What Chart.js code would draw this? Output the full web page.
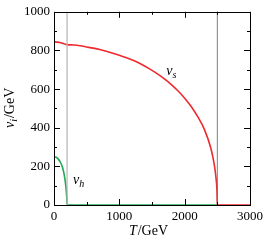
<!DOCTYPE html>
<html>
<head>
<meta charset="utf-8">
<script src="https://cdn.jsdelivr.net/npm/chart.js@4"></script>
<style>
  html, body { margin: 0; padding: 0; background: #fff; }
  #wrap { width: 267px; height: 243px; }
</style>
</head>
<body>
<div id="wrap"><canvas id="chart"></canvas></div>
<script>
// singlet vev v_s against temperature
const tempS = [0, 50, 100, 150, 200, 300, 400, 500, 600, 700, 800, 900, 1000, 1100, 1200, 1300,
  1400, 1500, 1600, 1700, 1800, 1900, 2000, 2100, 2200, 2300, 2400, 2450, 2480, 2495, 2500, 3000];
const vsValues = [845, 843, 840, 835, 830, 828, 824, 818, 812, 805, 796, 786, 775, 763, 750, 735,
  717, 697, 675, 650, 622, 590, 553, 510, 457, 393, 295, 215, 140, 70, 0, 0];

// higgs vev v_h
const tempH = [0, 30, 60, 100, 130, 160, 180, 195, 200, 2500];
const vhValues = [248, 247, 240, 220, 195, 150, 100, 40, 0, 0];

// critical temperatures (vertical marker lines)
const transitionTemps = [200, 2500];

const xTicks = [0, 1000, 2000, 3000];
const yTicks = [0, 200, 400, 600, 800, 1000];

const SERIF = '"Liberation Serif", "DejaVu Serif", serif';
const RED = '#ee2a2f';
const GREEN = '#1faa55';

const toPoints = (xs, ys) => xs.map((x, i) => ({ x, y: ys[i] }));

const curveLabels = [
  { main: 'v', sub: 's', x: 1720, y: 672 },
  { main: 'v', sub: 'h', x: 290, y: 110 },
];

// draws inward ticks on all four sides, the frame, curve labels and axis titles
const framePlugin = {
  id: 'frame',
  afterDatasetsDraw(chart) {
    const { ctx, chartArea: a, scales } = chart;
    const xs = scales.x, ys = scales.y;
    ctx.save();
    ctx.strokeStyle = '#000';
    ctx.lineWidth = 1;
    ctx.beginPath();
    for (let v = 0; v <= 3000; v += 500) {
      const px = Math.round(xs.getPixelForValue(v)) + 0.5;
      const len = v % 1000 === 0 ? 6 : 3;
      ctx.moveTo(px, a.bottom); ctx.lineTo(px, a.bottom - len);
      ctx.moveTo(px, a.top); ctx.lineTo(px, a.top + len);
    }
    for (let v = 0; v <= 1000; v += 100) {
      const py = Math.round(ys.getPixelForValue(v)) + 0.5;
      const len = v % 200 === 0 ? 6 : 3;
      ctx.moveTo(a.left, py); ctx.lineTo(a.left + len, py);
      ctx.moveTo(a.right, py); ctx.lineTo(a.right - len, py);
    }
    ctx.stroke();
    ctx.strokeRect(Math.round(a.left) + 0.5, Math.round(a.top) + 0.5,
      Math.round(a.right - a.left), Math.round(a.bottom - a.top));

    ctx.fillStyle = '#000';
    ctx.textBaseline = 'alphabetic';
    curveLabels.forEach(l => {
      const px = xs.getPixelForValue(l.x), py = ys.getPixelForValue(l.y);
      ctx.font = 'italic 14px ' + SERIF;
      ctx.textAlign = 'left';
      ctx.fillText(l.main, px, py);
      const w = ctx.measureText(l.main).width;
      ctx.font = 'italic 10px ' + SERIF;
      ctx.fillText(l.sub, px + w, py + 3);
    });

    // x title: T/GeV
    const cx = (a.left + a.right) / 2 - 4;
    ctx.font = 'italic 14px ' + SERIF;
    const tW = ctx.measureText('T').width;
    ctx.font = '14px ' + SERIF;
    const rW = ctx.measureText('/GeV').width;
    let sx = cx - (tW + rW) / 2;
    ctx.font = 'italic 14px ' + SERIF;
    ctx.fillText('T', sx, 235);
    ctx.font = '14px ' + SERIF;
    ctx.fillText('/GeV', sx + tW + 1, 235);

    // y title: v_i/GeV
    ctx.translate(14, (a.top + a.bottom) / 2);
    ctx.rotate(-Math.PI / 2);
    ctx.font = 'italic 14px ' + SERIF;
    const vW = ctx.measureText('v').width;
    ctx.font = 'italic 10px ' + SERIF;
    const iW = ctx.measureText('i').width;
    ctx.font = '14px ' + SERIF;
    const gW = ctx.measureText('/GeV').width;
    sx = -(vW + iW + gW) / 2;
    ctx.font = 'italic 14px ' + SERIF;
    ctx.fillText('v', sx, 0);
    ctx.font = 'italic 10px ' + SERIF;
    ctx.fillText('i', sx + vW, 3);
    ctx.font = '14px ' + SERIF;
    ctx.fillText('/GeV', sx + vW + iW + 1, 0);
    ctx.restore();
  }
};

const lineStyle = (color, width) => ({
  showLine: true, borderColor: color, borderWidth: width,
  pointRadius: 0, fill: false, tension: 0,
});

new Chart(document.getElementById('chart'), {
  type: 'scatter',
  data: {
    datasets: [
      { data: [{ x: transitionTemps[0], y: 0 }, { x: transitionTemps[0], y: 1000 }], ...lineStyle('#b4b4b4', 1.2) },
      { data: [{ x: transitionTemps[1], y: 0 }, { x: transitionTemps[1], y: 1000 }], ...lineStyle('#707070', 0.9) },
      { data: toPoints(tempS, vsValues), ...lineStyle(RED, 1.6), cubicInterpolationMode: 'monotone' },
      { data: toPoints(tempH, vhValues), ...lineStyle(GREEN, 1.6), cubicInterpolationMode: 'monotone' },
    ]
  },
  options: {
    responsive: true,
    maintainAspectRatio: false,
    animation: false,
    clip: false,
    layout: { padding: { top: 7, right: 15, left: 0, bottom: 0 } },
    plugins: { legend: { display: false }, tooltip: { enabled: false } },
    scales: {
      x: {
        type: 'linear', min: 0, max: 3000,
        afterBuildTicks: s => { s.ticks = xTicks.map(v => ({ value: v })); },
        afterFit: s => { s.height = 38; },
        grid: { display: false, drawTicks: false },
        border: { display: false },
        ticks: { color: '#000', padding: 4, maxRotation: 0, callback: v => String(v),
          font: { family: SERIF, size: 13 } },
      },
      y: {
        type: 'linear', min: 0, max: 1000,
        afterBuildTicks: s => { s.ticks = yTicks.map(v => ({ value: v })); },
        afterFit: s => { s.width = 54; },
        grid: { display: false, drawTicks: false },
        border: { display: false },
        ticks: { color: '#000', padding: 4, callback: v => String(v),
          font: { family: SERIF, size: 13 } },
      }
    }
  },
  plugins: [framePlugin]
});
</script>
</body>
</html>
